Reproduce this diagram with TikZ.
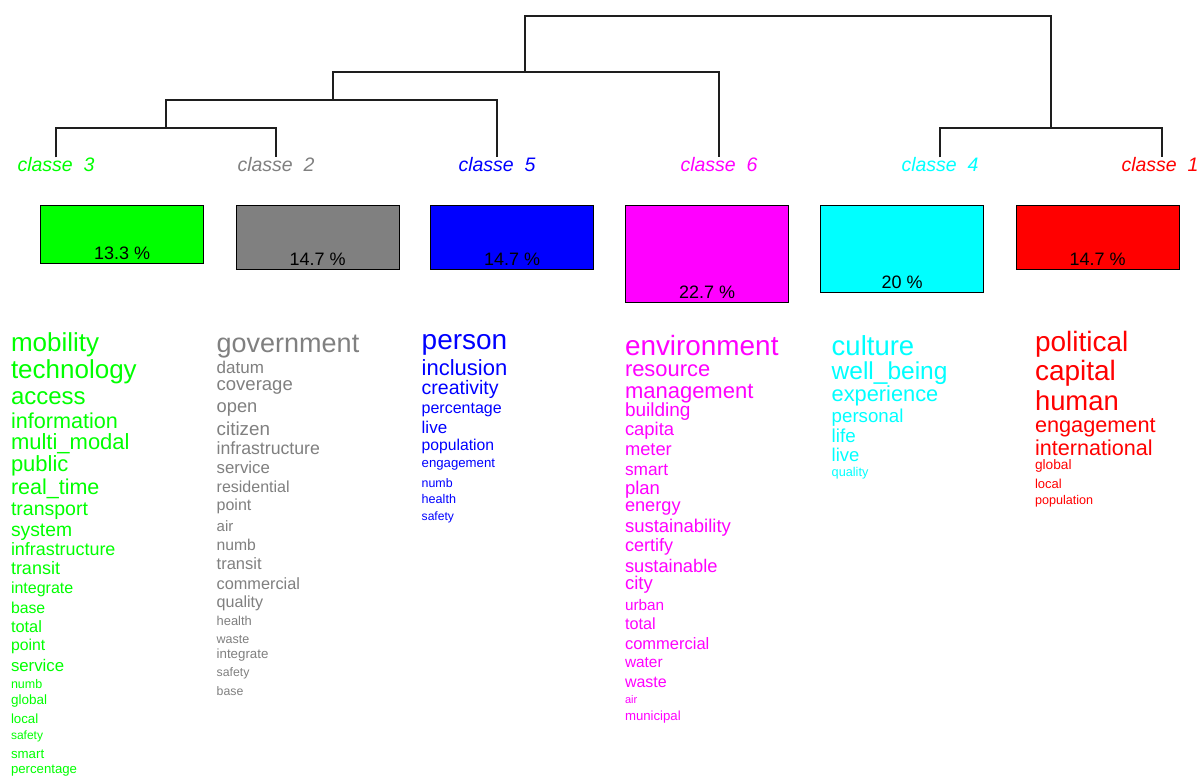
\documentclass[tikz,border=0pt]{standalone}
\usepackage{fontspec}
\setmainfont{Liberation Sans}
\definecolor{cgreen}{RGB}{0,255,0}
\definecolor{cgray}{RGB}{128,128,128}
\definecolor{cblue}{RGB}{0,0,255}
\definecolor{cmagenta}{RGB}{255,0,255}
\definecolor{ccyan}{RGB}{0,255,255}
\definecolor{cred}{RGB}{255,0,0}
\definecolor{treeline}{RGB}{30,30,30}
\tikzset{
  word/.style={anchor=base west, inner sep=0pt, outer sep=0pt},
  classlabel/.style={anchor=base, inner sep=0pt, outer sep=0pt,
    font=\fontsize{19.5}{19.5}\selectfont\itshape},
  pbox/.style={draw=black, line width=1.4pt, anchor=north west,
    minimum width=163pt, inner sep=0pt},
  pct/.style={anchor=base, inner sep=0pt, font=\fontsize{18}{18}\selectfont},
  branch/.style={draw=treeline, line width=1.5pt},
}
\newcommand\wordsize[1]{\fontsize{#1}{#1}\selectfont}
\begin{document}
\begin{tikzpicture}[x=1pt,y=1pt]
\useasboundingbox (0,0) rectangle (1198,-776);
\clip (0,0) rectangle (1198,-776);
\fill[white] (0,0) rectangle (1198,-776);

% class labels (leaves of the tree)
\node[classlabel, text=cgreen]   (c3) at (56,-171.5)   {classe~~3};
\node[classlabel, text=cgray]    (c2) at (276,-171.5)  {classe~~2};
\node[classlabel, text=cblue]    (c5) at (497,-171.5)  {classe~~5};
\node[classlabel, text=cmagenta] (c6) at (719,-171.5)  {classe~~6};
\node[classlabel, text=ccyan]    (c4) at (940,-171.5)  {classe~~4};
\node[classlabel, text=cred]     (c1) at (1160,-171.5) {classe~~1};

% junctions of the dendrogram
\coordinate (j32)   at (166,-128);
\coordinate (j325)  at (333,-100);
\coordinate (j3256) at (525,-72);
\coordinate (j41)   at (1051,-128);
\coordinate (root)  at (788,-16);

\draw[branch] (c3.north) |- (j32) -| (c2.north);
\draw[branch] (j32) |- (j325) -| (c5.north);
\draw[branch] (j325) |- (j3256) -| (c6.north);
\draw[branch] (c4.north) |- (j41) -| ([xshift=2pt]c1.north);
\draw[branch] (j3256) |- (root) -| (j41);

% class size boxes
\node[pbox, fill=cgreen,   minimum height=58pt] (b3) at (40,-205)   {};
\node[pbox, fill=cgray,    minimum height=64pt] (b2) at (235.5,-205) {};
\node[pbox, fill=cblue,    minimum height=64pt] (b5) at (430,-205)  {};
\node[pbox, fill=cmagenta, minimum height=97pt] (b6) at (625,-205)  {};
\node[pbox, fill=ccyan,    minimum height=87pt] (b4) at (820,-205)  {};
\node[pbox, fill=cred,     minimum height=64pt] (b1) at (1015.5,-205) {};

\node[pct] (p3) at ([yshift=5pt]b3.south) {13.3 \%};
\node[pct] (p2) at ([yshift=5pt]b2.south) {14.7 \%};
\node[pct] (p5) at ([yshift=5pt]b5.south) {14.7 \%};
\node[pct] (p6) at ([yshift=5pt]b6.south) {22.7 \%};
\node[pct] (p4) at ([yshift=5pt]b4.south) {20 \%};
\node[pct] (p1) at ([yshift=5pt]b1.south) {14.7 \%};

% characteristic words of each class
\foreach \w/\s/\y [count=\i] in {mobility/26/351, technology/26/378,
  access/24/404, information/21.6/428, multi\_modal/22/449.5, public/22/471.5,
  real\_time/21.5/494.5, transport/19.5/515, system/19.3/536,
  infrastructure/17.9/555, transit/18/574.5, integrate/16/593, base/15.8/613.5,
  total/16.4/632.5, point/15.8/650.5, service/16.8/671, numb/12.5/688,
  global/13.5/704.5, local/13.3/723, safety/12/739.5, smart/13.3/758,
  percentage/13.2/773}
  \node[word, text=cgreen, font=\wordsize{\s}] (g\i) at (11,-\y) {\w};

\foreach \w/\s/\y [count=\i] in {government/27/352.5, datum/17/373,
  coverage/18.5/390.5, open/18.3/412, citizen/18.8/435,
  infrastructure/17.7/454, service/16.8/473, residential/16/492.5,
  point/16/510, air/15/531, numb/15.7/550.5, transit/16.5/569.5,
  commercial/16.3/589, quality/16.1/607.5, health/12.9/625.5, waste/12.5/643,
  integrate/13.3/658.5, safety/12.3/676, base/12.3/695}
  \node[word, text=cgray, font=\wordsize{\s}] (k\i) at (216.7,-\y) {\w};

\foreach \w/\s/\y [count=\i] in {person/28/349.5, inclusion/22/375,
  creativity/19.5/394.5, percentage/16/413, live/17/433, population/15.7/450.5,
  engagement/13.2/467.5, numb/12.4/487, health/12.6/503.5, safety/12.1/520}
  \node[word, text=cblue, font=\wordsize{\s}] (u\i) at (421.7,-\y) {\w};

\foreach \w/\s/\y [count=\i] in {environment/27.9/355, resource/21.9/376,
  management/22/398, building/19/416, capita/18.4/435, meter/18.3/455,
  smart/17.3/475, plan/18.5/494, energy/18.2/511, sustainability/18.5/532,
  certify/18/551, sustainable/18.3/572, city/18.5/589.5, urban/15.3/610,
  total/16.2/629, commercial/16.5/649, water/15.4/667, waste/16/687,
  air/11/703, municipal/13.2/720}
  \node[word, text=cmagenta, font=\wordsize{\s}] (m\i) at (625,-\y) {\w};

\foreach \w/\s/\y [count=\i] in {culture/27.5/355, well\_being/24.5/379,
  experience/21.8/401, personal/18.7/422.5, life/18.8/442.5, live/18.5/461.5,
  quality/12.7/476}
  \node[word, text=ccyan, font=\wordsize{\s}] (n\i) at (831.7,-\y) {\w};

\foreach \w/\s/\y [count=\i] in {political/28/351, capital/28/380,
  human/27.4/410.5, engagement/21.7/432, international/21.6/455,
  global/13.7/469, local/13/488, population/12.6/504}
  \node[word, text=cred, font=\wordsize{\s}] (r\i) at (1035,-\y) {\w};
\end{tikzpicture}
\end{document}
